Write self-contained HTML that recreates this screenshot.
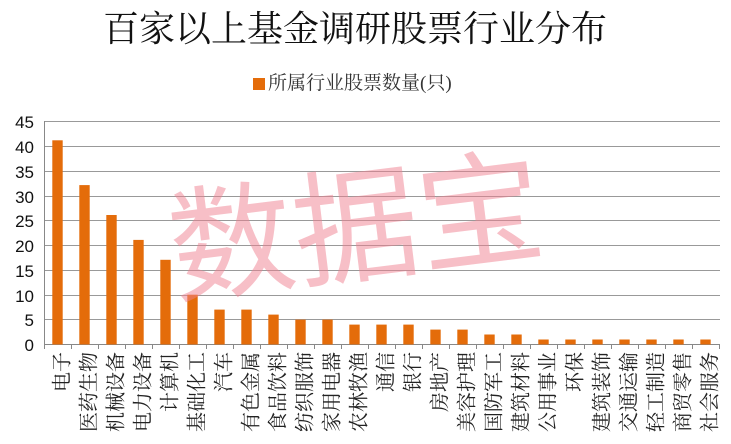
<!DOCTYPE html>
<html><head><meta charset="utf-8"><style>
html,body{margin:0;padding:0;background:#fff;}
svg{display:block;}
</style></head><body>
<svg width="731" height="444" xmlns="http://www.w3.org/2000/svg">
<rect width="731" height="444" fill="#fff"/>
<text x="355" y="41" text-anchor="middle" font-family="'Noto Serif CJK SC',serif" font-size="36" fill="#111">百家以上基金调研股票行业分布</text>
<rect x="253" y="78" width="12" height="12" fill="#e46c0a"/>
<text x="268" y="89" font-family="'Liberation Serif','Noto Serif CJK SC',serif" font-size="19" fill="#333">所属行业股票数量(只)</text>
<g stroke="#999" stroke-width="1">
<line x1="44" x2="720" y1="121.5" y2="121.5"/>
<line x1="44" x2="720" y1="146.5" y2="146.5"/>
<line x1="44" x2="720" y1="171.5" y2="171.5"/>
<line x1="44" x2="720" y1="196.5" y2="196.5"/>
<line x1="44" x2="720" y1="220.5" y2="220.5"/>
<line x1="44" x2="720" y1="245.5" y2="245.5"/>
<line x1="44" x2="720" y1="270.5" y2="270.5"/>
<line x1="44" x2="720" y1="295.5" y2="295.5"/>
<line x1="44" x2="720" y1="319.5" y2="319.5"/>
</g>
<line x1="44.5" x2="44.5" y1="121" y2="349" stroke="#888"/>
<line x1="44" x2="720" y1="344.5" y2="344.5" stroke="#888"/>
<g font-family="'Liberation Sans','Noto Sans CJK SC',sans-serif" font-size="17" fill="#111" text-anchor="end">
<text x="34" y="128">45</text><text x="34" y="153">40</text><text x="34" y="178">35</text>
<text x="34" y="203">30</text><text x="34" y="227">25</text><text x="34" y="252">20</text>
<text x="34" y="277">15</text><text x="34" y="302">10</text><text x="34" y="326">5</text>
<text x="34" y="351">0</text>
</g>
<g fill="#e46c0a">
<rect x="52.3" y="140.3" width="10.4" height="204.2"/>
<rect x="79.3" y="185.1" width="10.4" height="159.4"/>
<rect x="106.3" y="215" width="10.4" height="129.5"/>
<rect x="133.3" y="239.9" width="10.4" height="104.6"/>
<rect x="160.3" y="259.8" width="10.4" height="84.7"/>
<rect x="187.3" y="294.7" width="10.4" height="49.8"/>
<rect x="214.3" y="309.6" width="10.4" height="34.9"/>
<rect x="241.3" y="309.6" width="10.4" height="34.9"/>
<rect x="268.3" y="314.6" width="10.4" height="29.9"/>
<rect x="295.3" y="319.6" width="10.4" height="24.9"/>
<rect x="322.3" y="319.6" width="10.4" height="24.9"/>
<rect x="349.3" y="324.6" width="10.4" height="19.9"/>
<rect x="376.3" y="324.6" width="10.4" height="19.9"/>
<rect x="403.3" y="324.6" width="10.4" height="19.9"/>
<rect x="430.3" y="329.6" width="10.4" height="14.9"/>
<rect x="457.3" y="329.6" width="10.4" height="14.9"/>
<rect x="484.3" y="334.5" width="10.4" height="10"/>
<rect x="511.3" y="334.5" width="10.4" height="10"/>
<rect x="538.3" y="339.5" width="10.4" height="5"/>
<rect x="565.3" y="339.5" width="10.4" height="5"/>
<rect x="592.3" y="339.5" width="10.4" height="5"/>
<rect x="619.3" y="339.5" width="10.4" height="5"/>
<rect x="646.3" y="339.5" width="10.4" height="5"/>
<rect x="673.3" y="339.5" width="10.4" height="5"/>
<rect x="700.3" y="339.5" width="10.4" height="5"/>
</g>
<g stroke="#888">
<line x1="71.5" x2="71.5" y1="344" y2="349"/><line x1="98.5" x2="98.5" y1="344" y2="349"/>
<line x1="125.5" x2="125.5" y1="344" y2="349"/><line x1="152.5" x2="152.5" y1="344" y2="349"/>
<line x1="179.5" x2="179.5" y1="344" y2="349"/><line x1="206.5" x2="206.5" y1="344" y2="349"/>
<line x1="233.5" x2="233.5" y1="344" y2="349"/><line x1="260.5" x2="260.5" y1="344" y2="349"/>
<line x1="287.5" x2="287.5" y1="344" y2="349"/><line x1="314.5" x2="314.5" y1="344" y2="349"/>
<line x1="341.5" x2="341.5" y1="344" y2="349"/><line x1="368.5" x2="368.5" y1="344" y2="349"/>
<line x1="395.5" x2="395.5" y1="344" y2="349"/><line x1="422.5" x2="422.5" y1="344" y2="349"/>
<line x1="449.5" x2="449.5" y1="344" y2="349"/><line x1="476.5" x2="476.5" y1="344" y2="349"/>
<line x1="503.5" x2="503.5" y1="344" y2="349"/><line x1="530.5" x2="530.5" y1="344" y2="349"/>
<line x1="557.5" x2="557.5" y1="344" y2="349"/><line x1="584.5" x2="584.5" y1="344" y2="349"/>
<line x1="611.5" x2="611.5" y1="344" y2="349"/><line x1="638.5" x2="638.5" y1="344" y2="349"/>
<line x1="665.5" x2="665.5" y1="344" y2="349"/><line x1="692.5" x2="692.5" y1="344" y2="349"/>
<line x1="719.5" x2="719.5" y1="344" y2="349"/>
</g>
<g font-family="'Noto Serif CJK SC',serif" font-size="20" fill="#222" text-anchor="end">
<text transform="translate(68.5,352) rotate(-90)">电子</text>
<text transform="translate(95.5,352) rotate(-90)">医药生物</text>
<text transform="translate(122.5,352) rotate(-90)">机械设备</text>
<text transform="translate(149.5,352) rotate(-90)">电力设备</text>
<text transform="translate(176.5,352) rotate(-90)">计算机</text>
<text transform="translate(203.5,352) rotate(-90)">基础化工</text>
<text transform="translate(230.5,352) rotate(-90)">汽车</text>
<text transform="translate(257.5,352) rotate(-90)">有色金属</text>
<text transform="translate(284.5,352) rotate(-90)">食品饮料</text>
<text transform="translate(311.5,352) rotate(-90)">纺织服饰</text>
<text transform="translate(338.5,352) rotate(-90)">家用电器</text>
<text transform="translate(365.5,352) rotate(-90)">农林牧渔</text>
<text transform="translate(392.5,352) rotate(-90)">通信</text>
<text transform="translate(419.5,352) rotate(-90)">银行</text>
<text transform="translate(446.5,352) rotate(-90)">房地产</text>
<text transform="translate(473.5,352) rotate(-90)">美容护理</text>
<text transform="translate(500.5,352) rotate(-90)">国防军工</text>
<text transform="translate(527.5,352) rotate(-90)">建筑材料</text>
<text transform="translate(554.5,352) rotate(-90)">公用事业</text>
<text transform="translate(581.5,352) rotate(-90)">环保</text>
<text transform="translate(608.5,352) rotate(-90)">建筑装饰</text>
<text transform="translate(635.5,352) rotate(-90)">交通运输</text>
<text transform="translate(662.5,352) rotate(-90)">轻工制造</text>
<text transform="translate(689.5,352) rotate(-90)">商贸零售</text>
<text transform="translate(716.5,352) rotate(-90)">社会服务</text>
</g>
<text x="355" y="272" text-anchor="middle" transform="rotate(-7 355 220)" font-family="'Liberation Sans','Noto Sans CJK SC',sans-serif" font-size="125" fill="#f08090" fill-opacity="0.5">数据宝</text>
</svg>
</body></html>
